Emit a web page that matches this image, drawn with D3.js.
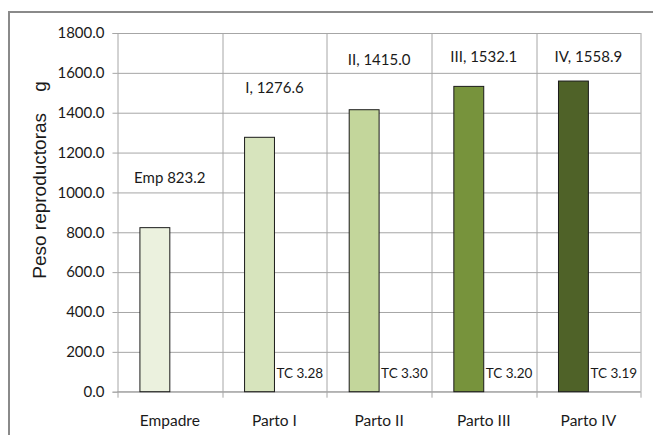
<!DOCTYPE html>
<html>
<head>
<meta charset="utf-8">
<script src="https://cdn.jsdelivr.net/npm/d3@7"></script>
<style>
  body { margin: 0; background: #fff; }
  svg { display: block; }
  .tick text { font-family: Lato, "Liberation Sans", sans-serif; fill: #1a1a1a; }
</style>
</head>
<body>
<script>
// data
var categories = ["Empadre", "Parto I", "Parto II", "Parto III", "Parto IV"];
var pesos = [823.2, 1276.6, 1415.0, 1532.1, 1558.9];
var etiquetas = ["Emp 823.2", "I, 1276.6", "II, 1415.0", "III, 1532.1", "IV, 1558.9"];
var tc = [null, 3.28, 3.30, 3.20, 3.19];
var yTicks = [0, 200, 400, 600, 800, 1000, 1200, 1400, 1600, 1800];
var colores = ["#ebf1de", "#d7e4bd", "#c3d69b", "#77933c", "#4f6228"];

var w = 653, h = 435;
var m = {left: 117.5, top: 33, right: 12.3, bottom: 43.3};
var iw = w - m.left - m.right, ih = h - m.top - m.bottom;

var svg = d3.select("body").append("svg").attr("width", w).attr("height", h);

// outer chart frame
svg.append("rect")
    .attr("x", 9).attr("y", 12)
    .attr("width", 660).attr("height", 440)
    .attr("fill", "none").attr("stroke", "#8a8a8a").attr("stroke-width", 2);

var x = d3.scaleBand().domain(categories).range([0, iw]);
// two series per group, excel style gap width 150%
var xs = d3.scaleBand().domain(["peso", "tc"]).range([0, x.bandwidth()]).paddingOuter(0.75);
var y = d3.scaleLinear().domain([0, 1800]).range([ih, 0]);

var g = svg.append("g").attr("transform", "translate(" + m.left + "," + m.top + ")");

// horizontal gridlines
g.append("g").selectAll("line")
    .data(yTicks)
    .enter().append("line")
    .attr("x1", 0).attr("x2", iw)
    .attr("y1", d => y(d) + 0.5).attr("y2", d => y(d) + 0.5)
    .attr("stroke", "#a6a6a6");

// vertical gridlines at category boundaries
var bounds = categories.map(c => x(c)).concat([iw]);
g.append("g").selectAll("line")
    .data(bounds.slice(1))
    .enter().append("line")
    .attr("x1", d => Math.round(d) + 0.5).attr("x2", d => Math.round(d) + 0.5)
    .attr("y1", 0).attr("y2", ih)
    .attr("stroke", "#a6a6a6");

// y axis
var yAxis = g.append("g")
    .call(d3.axisLeft(y).tickValues(yTicks).tickFormat(d3.format(".1f")).tickSize(5).tickPadding(8));
yAxis.select(".domain").attr("stroke", "#a6a6a6");
yAxis.selectAll(".tick line").attr("stroke", "#a6a6a6");
yAxis.selectAll(".tick text").attr("font-size", 15);

// x axis: ticks on boundaries
var xAxisG = g.append("g").attr("transform", "translate(0," + ih + ")");
xAxisG.append("line").attr("x1", 0).attr("x2", iw).attr("stroke", "#a6a6a6");
xAxisG.selectAll(".bt")
    .data(bounds)
    .enter().append("line")
    .attr("x1", d => Math.round(d) + 0.5).attr("x2", d => Math.round(d) + 0.5)
    .attr("y1", 0).attr("y2", 6)
    .attr("stroke", "#a6a6a6");
xAxisG.selectAll(".cat")
    .data(categories)
    .enter().append("text")
    .attr("x", d => x(d) + x.bandwidth() / 2)
    .attr("y", 34)
    .attr("text-anchor", "middle")
    .attr("font-family", "Lato, 'Liberation Sans', sans-serif")
    .attr("font-size", 15.5)
    .attr("fill", "#1a1a1a")
    .text(d => d);

// bars
g.selectAll(".bar")
    .data(pesos)
    .enter().append("rect")
    .attr("x", (d, i) => x(categories[i]) + xs("peso"))
    .attr("y", d => y(d))
    .attr("width", xs.bandwidth())
    .attr("height", d => ih - y(d))
    .attr("fill", (d, i) => colores[i])
    .attr("stroke", "#1a1a1a")
    .attr("stroke-width", 1);

// value labels, lifted above the bars
g.selectAll(".lbl")
    .data(pesos)
    .enter().append("text")
    .attr("x", (d, i) => x(categories[i]) + x.bandwidth() / 2)
    .attr("y", d => y(Math.min(d + 250, 1680)))
    .attr("dy", "0.35em")
    .attr("text-anchor", "middle")
    .attr("font-family", "Lato, 'Liberation Sans', sans-serif")
    .attr("font-size", 15)
    .attr("fill", "#1a1a1a")
    .text((d, i) => etiquetas[i]);

// TC labels next to each bar
var tcRows = tc.map((v, i) => ({cat: categories[i], v: v})).filter(d => d.v != null);
g.selectAll(".tc")
    .data(tcRows)
    .enter().append("text")
    .attr("x", d => x(d.cat) + xs("tc") + 2)
    .attr("y", ih - 18)
    .attr("dy", "0.35em")
    .attr("font-family", "Lato, 'Liberation Sans', sans-serif")
    .attr("font-size", 13.5)
    .attr("fill", "#1a1a1a")
    .text(d => "TC " + d.v.toFixed(2));

// y title
svg.append("text")
    .attr("transform", "translate(46,180) rotate(-90)")
    .attr("text-anchor", "middle")
    .attr("font-family", "'Liberation Sans', Arial, sans-serif")
    .attr("font-size", 19)
    .attr("fill", "#1a1a1a")
    .attr("xml:space", "preserve")
    .style("white-space", "pre")
    .text("Peso reproductoras    g");
</script>
</body>
</html>
